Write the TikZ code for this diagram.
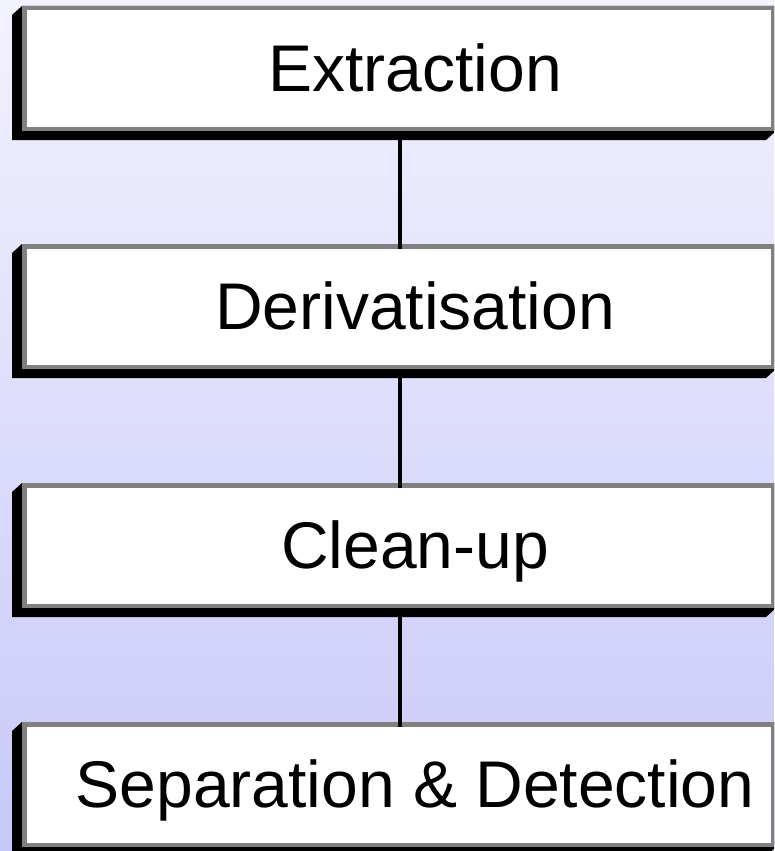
\documentclass[tikz,border=0pt]{standalone}
\usepackage{fontspec}
\setmainfont{Liberation Sans}
\definecolor{bgtop}{RGB}{242,242,255}
\definecolor{bgbot}{RGB}{200,200,248}
\definecolor{frame}{RGB}{128,128,128}
\tikzset{
  stagetext/.style={anchor=base, inner sep=0pt, font=\fontsize{66}{79}\selectfont},
  link/.style={line width=4pt, black},
}
\newcommand{\stagebox}[3]{%
  % #1 name, #2 top y, #3 text
  \fill[black] (22,#2) -- (12,#2+9) -- (12,#2+134) -- (766,#2+134) -- (776,#2+125) -- (776,#2) -- cycle;
  \fill[white] (22,#2) rectangle (775,#2+125);
  \draw[frame, line width=4.5pt] (24.25,#2+2.25) rectangle (772.75,#2+122.75);
  \coordinate (#1top) at (400,#2+4.5);
  \coordinate (#1bot) at (400,#2+125);
  \node[stagetext] (#1) at (415,#2+85) {#3};
}
\begin{document}
\begin{tikzpicture}[x=1pt,y=-1pt]
\useasboundingbox (0,0) rectangle (774,851);
\clip (0,0) rectangle (774,851);
\shade[top color=bgtop, bottom color=bgbot] (0,0) rectangle (774,851);
\stagebox{a}{6}{Extraction}
\stagebox{b}{244}{Derivatisation}
\stagebox{c}{483}{Clean-up}
\stagebox{d}{722}{Separation \& Detection}
\draw[link] (abot) -- (btop);
\draw[link] (bbot) -- (ctop);
\draw[link] (cbot) -- (dtop);
\end{tikzpicture}
\end{document}
